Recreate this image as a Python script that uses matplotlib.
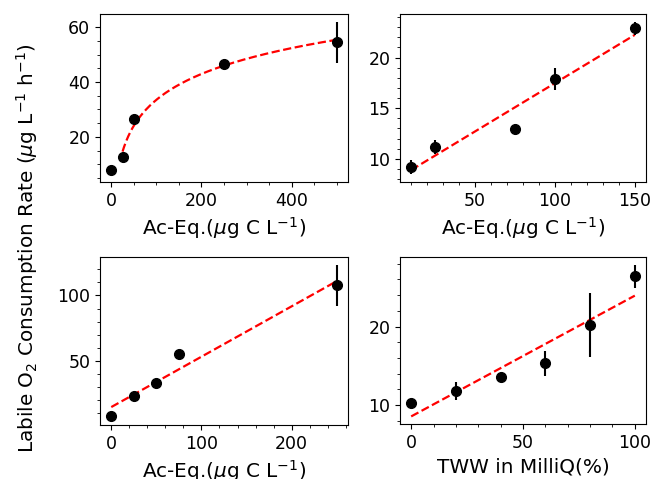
import numpy as np
import matplotlib
matplotlib.use("Agg")
import matplotlib.pyplot as plt

# Panel A (top-left): log fit
xa = [0, 25, 50, 250, 500]
ya = [7.8, 12.7, 26.4, 46.6, 54.5]
ea = [1.5, 1.0, 1.5, 0.8, 7.6]

# Panel B (top-right)
xb = [10, 25, 75, 100, 150]
yb = [9.17, 11.17, 12.9, 17.9, 22.9]
eb = [0.7, 0.73, 0.3, 1.1, 0.65]

# Panel C (bottom-left)
xc = [0, 25, 50, 75, 250]
yc = [7.5, 23.1, 32.6, 55.4, 107.7]
ec = [1.1, 1.0, 1.0, 1.0, 16.0]

# Panel D (bottom-right)
xd = [0, 20, 40, 60, 80, 100]
yd = [10.25, 11.76, 13.57, 15.33, 20.17, 26.4]
ed = [0.3, 1.16, 0.3, 1.58, 4.1, 1.5]

xlabel_ac = r"Ac-Eq.($\mu$g C L$^{-1}$)"
xlabel_tww = "TWW in MilliQ(%)"
ylabel = r"Labile O$_2$ Consumption Rate ($\mu$g L$^{-1}$ h$^{-1}$)"

TICK_FS = 12.5
LABEL_FS = 14.4

fig = plt.figure(figsize=(6.52, 4.79), dpi=100)
W, H = 652, 479


def add_ax(x0, x1, y0, y1):
    return fig.add_axes([x0 / W, (H - y1) / H, (x1 - x0) / W, (y1 - y0) / H])


axA = add_ax(100, 348, 14, 182)
axB = add_ax(400, 646, 14, 182)
axC = add_ax(100, 348, 257, 425)
axD = add_ax(400, 646, 257, 424)


def draw(ax, x, y, e, xlabel, kind="lin"):
    x = np.asarray(x, float)
    y = np.asarray(y, float)
    if kind == "log":
        m = x > 0
        b, a = np.polyfit(np.log(x[m]), y[m], 1)
        xx = np.linspace(x[m].min(), x.max(), 300)
        yy = a + b * np.log(xx)
    else:
        b, a = np.polyfit(x, y, 1)
        xx = np.linspace(x.min(), x.max(), 2)
        yy = a + b * xx
    ax.plot(xx, yy, "r--", lw=1.6, zorder=2)
    ax.errorbar(x, y, yerr=e, fmt="o", color="black", ms=7, elinewidth=1.5,
                capsize=0, zorder=3)
    ax.set_xlabel(xlabel, fontsize=LABEL_FS)
    ax.tick_params(labelsize=TICK_FS)
    ax.minorticks_on()


draw(axA, xa, ya, ea, xlabel_ac, kind="log")
draw(axB, xb, yb, eb, xlabel_ac)
draw(axC, xc, yc, ec, xlabel_ac)
draw(axD, xd, yd, ed, xlabel_tww)

axA.set_yticks([20, 40, 60])
axB.set_xticks([50, 100, 150])
axB.set_yticks([10, 15, 20])
axC.set_xticks([0, 100, 200])
axC.set_yticks([50, 100])
axD.set_xticks([0, 50, 100])
axD.set_yticks([10, 20])

fig.text(27 / W, 0.482, ylabel, rotation=90, ha="center", va="center",
         fontsize=LABEL_FS)

fig.savefig("out.png", dpi=100)
